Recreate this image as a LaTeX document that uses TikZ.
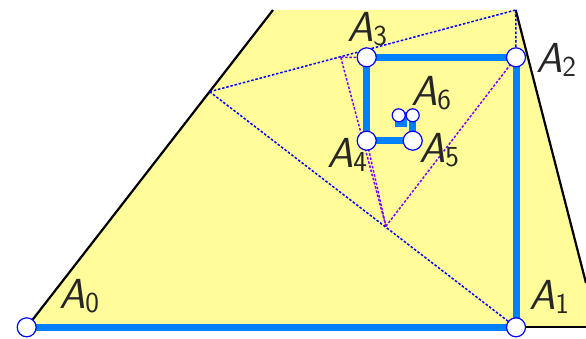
\documentclass[tikz,border=0pt]{standalone}
\usepackage{fontspec}
\definecolor{fillyel}{RGB}{255,252,153}
\definecolor{spiralblue}{RGB}{0,128,255}
\definecolor{dotblue}{RGB}{0,0,255}
\definecolor{dotpurple}{RGB}{128,0,255}
\newcommand\ptlab[1]{\textit{A}\raisebox{-4pt}{\fontsize{29}{29}\selectfont #1}}
\begin{document}
\begin{tikzpicture}[x=1pt,y=-1pt,
  lbl/.style={inner sep=0pt, anchor=base west, text=black!85, font=\fontsize{42}{42}\selectfont\sffamily},
  edge/.style={line width=2.2pt, black},
  dotb/.style={dotblue, line width=1.5pt, dash pattern=on 2.5pt off 1.8pt},
  dotp/.style={dotpurple, line width=1.5pt, dash pattern=on 2.5pt off 1.8pt},
  bigpt/.style={circle, draw=dotblue, fill=white, line width=1.2pt, minimum size=19pt, inner sep=0pt},
  smallpt/.style={circle, draw=dotblue, fill=white, line width=1.2pt, minimum size=13pt, inner sep=0pt}]
\useasboundingbox (0,0) rectangle (586,338);
% points
\coordinate (A0) at (26.7,327.3);
\coordinate (A1) at (516,327.3);
\coordinate (A2) at (516,57.3);
\coordinate (A3) at (366.7,57.3);
\coordinate (A4) at (366.7,140.7);
\coordinate (A5) at (412.7,140.7);
\coordinate (A6) at (412.7,115.3);
\coordinate (A7) at (398.7,115.3);
\coordinate (A8) at (398.7,123.0);
\coordinate (A9) at (403.0,123.0);
\coordinate (A10) at (403.0,120.6);
\coordinate (A11) at (401.7,120.6);
\coordinate (T) at (273,10);
\coordinate (Q) at (515.7,10);
\coordinate (R) at (586,283);
\coordinate (B) at (586,327.3);
\coordinate (P) at (209.6,91.7);
\coordinate (Pp) at (385.9,226.3);
\coordinate (Qp) at (340.8,57.4);
% fill
\fill[fillyel] (A0) -- (T) -- (Q) -- (R) -- (B) -- cycle;
% outer edges
\draw[edge] (A0) -- (T);
\draw[edge] (Q) -- (R);
\draw[edge] (A1) -- (B);
% dotted construction lines
\draw[dotb] (P) -- (Q);
\draw[dotb] (P) -- (A1);
\draw[dotb] (Q) -- (A2);
\draw[dotp] (Qp) -- (A3);
\draw[dotp] (Qp) -- (Pp);
\draw[dotp] (Pp) -- (A2);
\draw[dotp] (A4) -- (Pp);
% spiral
\draw[spiralblue, line width=7pt, line join=miter] (A0) -- (A1) -- (A2) -- (A3) -- (A4) -- (A5) -- (A6) -- (A7) -- (A8) -- (A9) -- (A10) -- (A11);
% points
\node[bigpt] (c0) at (A0) {};
\node[bigpt] (c1) at (A1) {};
\node[bigpt] (c2) at (A2) {};
\node[bigpt] (c3) at (A3) {};
\node[bigpt] (c4) at (A4) {};
\node[bigpt] (c5) at (A5) {};
\node[smallpt] (c6) at (A6) {};
\node[smallpt] (c7) at (A7) {};
% labels
\node[lbl] (l0) at (59,308) {\ptlab{0}};
\node[lbl] (l1) at (529,309) {\ptlab{1}};
\node[lbl] (l2) at (536,72) {\ptlab{2}};
\node[lbl] (l3) at (347,41) {\ptlab{3}};
\node[lbl] (l4) at (327,167) {\ptlab{4}};
\node[lbl] (l5) at (419,162) {\ptlab{5}};
\node[lbl] (l6) at (411,105) {\ptlab{6}};
\end{tikzpicture}
\end{document}
